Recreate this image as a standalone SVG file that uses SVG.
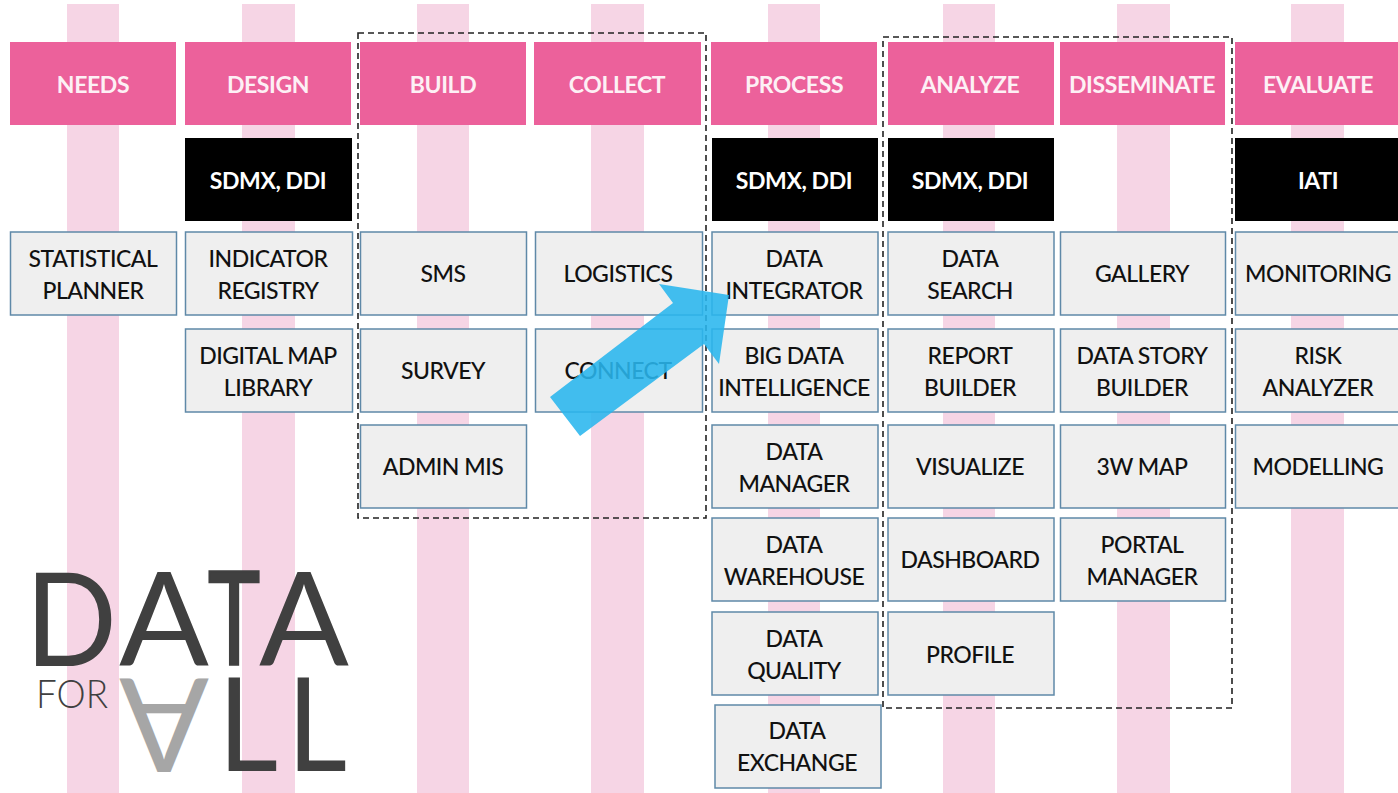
<svg xmlns="http://www.w3.org/2000/svg" width="1398" height="793" viewBox="0 0 1398 793">
<style>
text{font-family:"Lato","Open Sans","Liberation Sans",sans-serif;text-anchor:middle}
.bar{fill:#f6d5e5}
.h rect{fill:#ec619b}
.h text{fill:#fdf0f5;font-size:23px;font-weight:700;letter-spacing:-.4px}
.k rect{fill:#000}
.k text{fill:#fff;font-size:23px;font-weight:700;letter-spacing:-.4px}
.b rect{fill:#efefef;stroke:#5f89a8;stroke-width:1.5}
.b text{fill:#111;font-size:23px;font-weight:500;letter-spacing:-.5px}
.dash{fill:none;stroke:#222;stroke-width:1.6;stroke-dasharray:6 4}
.logo text{fill:#404040;font-weight:400;font-size:130px}
.logo .for{font-size:39px;font-weight:300}
.logo .inv{fill:#a6a6a6}
.logo .t{stroke:#404040;stroke-width:2.5px}
</style>
<rect width="1398" height="793" fill="#fff"/>
<g id="bars">
<rect class="bar" x="67" y="4" width="52" height="789"/>
<rect class="bar" x="242" y="4" width="53" height="789"/>
<rect class="bar" x="417" y="4" width="52" height="789"/>
<rect class="bar" x="591" y="4" width="53" height="789"/>
<rect class="bar" x="768" y="4" width="52" height="789"/>
<rect class="bar" x="943" y="4" width="52" height="789"/>
<rect class="bar" x="1117" y="4" width="53" height="789"/>
<rect class="bar" x="1291" y="4" width="53" height="789"/>
</g>
<g id="h-needs" class="h"><rect x="10" y="42" width="166" height="83"/><text x="93" y="93">NEEDS</text></g>
<g id="h-design" class="h"><rect x="185" y="42" width="166" height="83"/><text x="268" y="93">DESIGN</text></g>
<g id="h-build" class="h"><rect x="360" y="42" width="166" height="83"/><text x="443" y="93">BUILD</text></g>
<g id="h-collect" class="h"><rect x="534" y="42" width="167" height="83"/><text x="617" y="93">COLLECT</text></g>
<g id="h-process" class="h"><rect x="711" y="42" width="166" height="83"/><text x="794" y="93">PROCESS</text></g>
<g id="h-analyze" class="h"><rect x="888" y="42" width="166" height="83"/><text x="970" y="93">ANALYZE</text></g>
<g id="h-disseminate" class="h"><rect x="1060" y="42" width="165" height="83"/><text x="1142" y="93">DISSEMINATE</text></g>
<g id="h-evaluate" class="h"><rect x="1235" y="42" width="170" height="83"/><text x="1318" y="93">EVALUATE</text></g>
<g id="k-design" class="k"><rect x="185" y="138" width="167" height="83"/><text x="268" y="189">SDMX, DDI</text></g>
<g id="k-process" class="k"><rect x="712" y="138" width="166" height="83"/><text x="794" y="189">SDMX, DDI</text></g>
<g id="k-analyze" class="k"><rect x="888" y="138" width="166" height="83"/><text x="970" y="189">SDMX, DDI</text></g>
<g id="k-evaluate" class="k"><rect x="1235" y="138" width="170" height="83"/><text x="1318" y="189">IATI</text></g>
<g id="n1" class="b"><rect x="10.5" y="232" width="166" height="83"/><text x="93" y="267">STATISTICAL</text><text x="93" y="299">PLANNER</text></g>
<g id="n2" class="b"><rect x="185.5" y="232" width="167" height="83"/><text x="268" y="267">INDICATOR</text><text x="268" y="299">REGISTRY</text></g>
<g id="n3" class="b"><rect x="185.5" y="329" width="167" height="83"/><text x="268" y="364">DIGITAL MAP</text><text x="268" y="396">LIBRARY</text></g>
<g id="n4" class="b"><rect x="360.5" y="232" width="166" height="83"/><text x="443" y="282">SMS</text></g>
<g id="n5" class="b"><rect x="360.5" y="329" width="166" height="83"/><text x="443" y="379">SURVEY</text></g>
<g id="n6" class="b"><rect x="360.5" y="425" width="166" height="83"/><text x="443" y="475">ADMIN MIS</text></g>
<g id="n7" class="b"><rect x="535.5" y="232" width="167" height="83"/><text x="618" y="282">LOGISTICS</text></g>
<g id="n8" class="b"><rect x="535.5" y="329" width="167" height="83"/><text x="618" y="379">CONNECT</text></g>
<g id="n9" class="b"><rect x="712" y="232" width="166" height="83"/><text x="794" y="267">DATA</text><text x="794" y="299">INTEGRATOR</text></g>
<g id="n10" class="b"><rect x="712" y="329" width="166" height="83"/><text x="794" y="364">BIG DATA</text><text x="794" y="396">INTELLIGENCE</text></g>
<g id="n11" class="b"><rect x="712" y="425" width="166" height="83"/><text x="794" y="460">DATA</text><text x="794" y="492">MANAGER</text></g>
<g id="n12" class="b"><rect x="712" y="518" width="166" height="83"/><text x="794" y="553">DATA</text><text x="794" y="585">WAREHOUSE</text></g>
<g id="n13" class="b"><rect x="712" y="612" width="166" height="83"/><text x="794" y="647">DATA</text><text x="794" y="679">QUALITY</text></g>
<g id="n14" class="b"><rect x="715" y="705" width="166" height="83"/><text x="797" y="739">DATA</text><text x="797" y="771">EXCHANGE</text></g>
<g id="n15" class="b"><rect x="888" y="232" width="166" height="83"/><text x="970" y="267">DATA</text><text x="970" y="299">SEARCH</text></g>
<g id="n16" class="b"><rect x="888" y="329" width="166" height="83"/><text x="970" y="364">REPORT</text><text x="970" y="396">BUILDER</text></g>
<g id="n17" class="b"><rect x="888" y="425" width="166" height="83"/><text x="970" y="475">VISUALIZE</text></g>
<g id="n18" class="b"><rect x="888" y="518" width="166" height="83"/><text x="970" y="568">DASHBOARD</text></g>
<g id="n19" class="b"><rect x="888" y="612" width="166" height="83"/><text x="970" y="663">PROFILE</text></g>
<g id="n20" class="b"><rect x="1060.500" y="232" width="165" height="83"/><text x="1142" y="282">GALLERY</text></g>
<g id="n21" class="b"><rect x="1060.500" y="329" width="165" height="83"/><text x="1142" y="364">DATA STORY</text><text x="1142" y="396">BUILDER</text></g>
<g id="n22" class="b"><rect x="1060.500" y="425" width="165" height="83"/><text x="1142" y="475">3W MAP</text></g>
<g id="n23" class="b"><rect x="1060.500" y="518" width="165" height="83"/><text x="1142" y="553">PORTAL</text><text x="1142" y="585">MANAGER</text></g>
<g id="n24" class="b"><rect x="1235.500" y="232" width="170" height="83"/><text x="1318" y="282">MONITORING</text></g>
<g id="n25" class="b"><rect x="1235.500" y="329" width="170" height="83"/><text x="1318" y="364">RISK</text><text x="1318" y="396">ANALYZER</text></g>
<g id="n26" class="b"><rect x="1235.500" y="425" width="170" height="83"/><text x="1318" y="475">MODELLING</text></g>
<g id="frames">
<rect class="dash" x="358" y="33" width="348" height="485"/>
<rect class="dash" x="883" y="37" width="349" height="671"/>
</g>
<g id="connectors">
<polygon points="550,397 673,303 659,284 729,295 719,364 704,344 580,436" fill="#29b6ee" fill-opacity=".88"/>
</g>
<g id="logo" class="logo">
<text x="71" y="666" textLength="92" lengthAdjust="spacingAndGlyphs">D</text>
<text x="164" y="666" textLength="90" lengthAdjust="spacingAndGlyphs">A</text>
<text class="t" x="234" y="665" textLength="52" lengthAdjust="spacingAndGlyphs">T</text>
<text x="304" y="666" textLength="90" lengthAdjust="spacingAndGlyphs">A</text>
<text class="for" x="72" y="708" textLength="72" lengthAdjust="spacingAndGlyphs">FOR</text>
<text class="inv" transform="translate(164,678) scale(1,-1)" textLength="90" lengthAdjust="spacingAndGlyphs">A</text>
<text x="248" y="771" textLength="60" lengthAdjust="spacingAndGlyphs">L</text>
<text x="317" y="771" textLength="60" lengthAdjust="spacingAndGlyphs">L</text>
</g>
</svg>
